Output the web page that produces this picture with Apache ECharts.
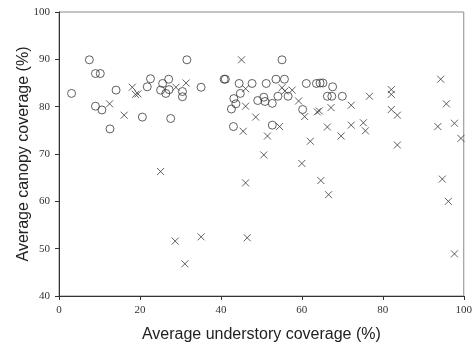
<!DOCTYPE html>
<html>
<head>
<meta charset="utf-8">
<script src="https://cdn.jsdelivr.net/npm/echarts@6/dist/echarts.min.js"></script>
<style>
  html, body { margin: 0; padding: 0; background: #fff; }
  #chart { width: 475px; height: 348px; }
</style>
</head>
<body>
<div id="chart"></div>
<script>
// circles: [understory %, canopy %]
const circlePoints = [
  [3.1, 82.8], [7.5, 89.9], [9.0, 87.0], [10.2, 87.0], [14.1, 83.5],
  [9.0, 80.1], [10.6, 79.3], [12.6, 75.3], [20.6, 77.8], [22.6, 85.9],
  [21.8, 84.2], [25.6, 84.9], [27.1, 85.8], [25.1, 83.5], [26.4, 82.8],
  [27.2, 83.6], [27.6, 77.5], [30.5, 83.2], [30.5, 82.1], [31.6, 89.9],
  [35.1, 84.1], [40.8, 85.8], [41.1, 85.8], [44.5, 84.9], [47.7, 84.9],
  [44.8, 82.8], [43.2, 81.7], [43.7, 80.6], [42.6, 79.5], [43.1, 75.8],
  [51.2, 84.9], [53.6, 85.8], [55.7, 85.8], [55.1, 89.9], [54.1, 82.2],
  [49.1, 81.3], [50.6, 82.0], [50.9, 81.1], [52.7, 80.7], [56.6, 82.2],
  [52.7, 76.1], [61.1, 84.9], [63.6, 84.9], [60.2, 79.4], [64.5, 85.0],
  [65.2, 85.0], [67.6, 84.2], [66.3, 82.2], [67.4, 82.2], [70.0, 82.2]
];

// crosses: [understory %, canopy %]
const crossPoints = [
  [12.5, 80.6], [16.1, 78.2], [18.1, 84.1], [18.9, 82.6], [19.5, 82.7],
  [28.9, 84.1], [31.4, 85.0], [45.1, 89.9], [46.1, 83.8], [46.1, 80.1],
  [48.6, 77.8], [45.5, 74.8], [51.5, 73.8], [54.5, 75.8], [55.1, 84.0],
  [55.8, 83.3], [57.6, 83.5], [59.2, 81.2], [60.7, 77.9], [62.1, 72.7],
  [63.8, 78.9], [64.3, 79.1], [67.2, 79.8], [72.2, 80.3], [76.7, 82.2],
  [82.1, 83.6], [82.1, 82.6], [82.1, 79.4], [83.6, 78.2], [66.3, 75.7],
  [69.7, 73.8], [72.2, 76.1], [75.2, 76.6], [75.7, 74.9], [83.6, 71.9],
  [94.3, 85.8], [95.7, 80.6], [93.6, 75.8], [97.7, 76.5], [99.3, 73.3],
  [25.1, 66.3], [28.7, 51.6], [31.1, 46.8], [35.1, 52.5], [46.5, 52.3],
  [46.1, 63.9], [50.6, 69.8], [60.0, 68.0], [64.7, 64.4], [66.6, 61.4],
  [94.7, 64.7], [96.2, 60.0], [97.7, 48.9]
];

const xTitle = 'Average understory coverage (%)';
const yTitle = 'Average canopy coverage (%)';

const chart = echarts.init(document.getElementById('chart'));

const tickLabel = {
  fontFamily: 'Liberation Serif',
  fontSize: 11,
  color: '#333'
};

chart.setOption({
  animation: false,
  backgroundColor: '#fff',
  grid: {
    left: 59, right: 9, top: 12, bottom: 50,
    show: true,
    borderColor: '#8a8a8a',
    borderWidth: 1
  },
  xAxis: {
    type: 'value',
    min: 0, max: 100, interval: 20,
    name: xTitle,
    nameLocation: 'middle',
    nameGap: 31,
    nameMoveOverlap: false,
    nameTextStyle: { fontFamily: 'Liberation Sans', fontSize: 16, color: '#222' },
    axisLine: { show: true, lineStyle: { color: '#333', width: 1 } },
    axisTick: { show: true, length: 4, lineStyle: { color: '#333' } },
    axisLabel: Object.assign({ margin: 9 }, tickLabel),
    splitLine: { show: false }
  },
  yAxis: {
    type: 'value',
    min: 40, max: 100, interval: 10,
    name: yTitle,
    nameLocation: 'middle',
    nameGap: 27,
    nameMoveOverlap: false,
    nameTextStyle: { fontFamily: 'Liberation Sans', fontSize: 16, color: '#222' },
    axisLine: { show: true, lineStyle: { color: '#333', width: 1 } },
    axisTick: { show: true, length: 4, lineStyle: { color: '#333' } },
    axisLabel: Object.assign({ margin: 9 }, tickLabel),
    splitLine: { show: false }
  },
  series: [
    {
      type: 'scatter',
      data: circlePoints,
      symbol: 'circle',
      symbolSize: 8,
      itemStyle: { color: 'transparent', borderColor: '#3a3a3a', borderWidth: 1 }
    },
    {
      type: 'scatter',
      data: crossPoints,
      symbol: 'path://M0,0L10,10M10,0L0,10',
      symbolSize: 7,
      itemStyle: { color: 'transparent', borderColor: '#3a3a3a', borderWidth: 1 }
    }
  ]
});
</script>
</body>
</html>
